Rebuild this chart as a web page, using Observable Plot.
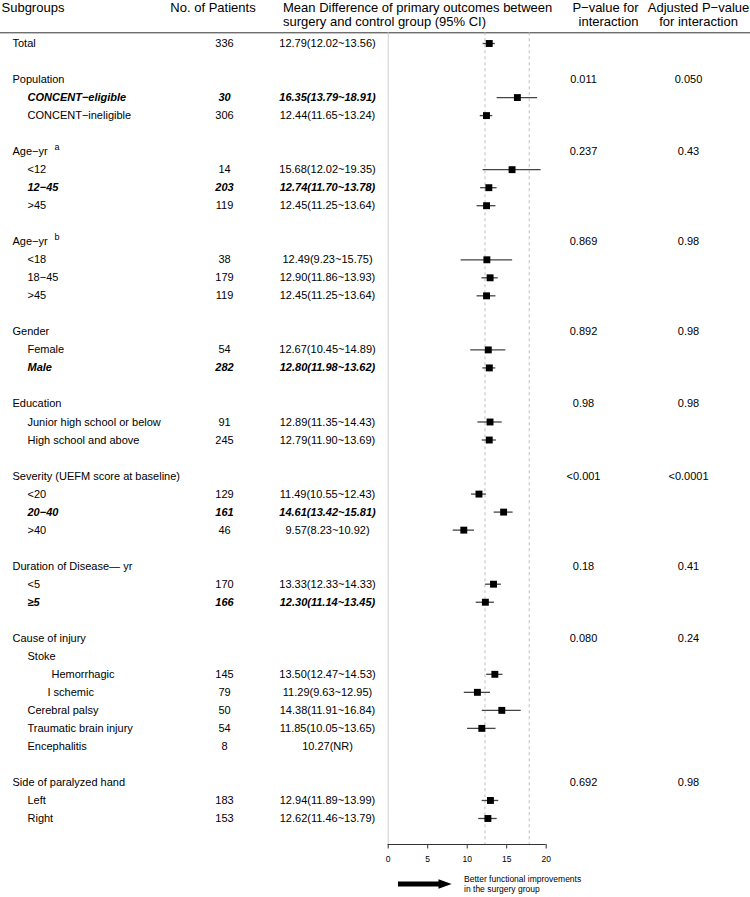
<!DOCTYPE html>
<html>
<head>
<meta charset="utf-8">
<script src="https://cdn.jsdelivr.net/npm/d3@7"></script>
<script src="https://cdn.jsdelivr.net/npm/@observablehq/plot@0.6"></script>
<style>
  html, body { margin: 0; padding: 0; background: #fff; }
  #chart svg { display: block; }
</style>
</head>
<body>
<div id="chart"></div>
<script>
// ---------------- DATA ----------------
const labels = [
  "Total", null,
  "Population", "CONCENT−eligible", "CONCENT−ineligible", null,
  "Age−yr", "<12", "12−45", ">45", null,
  "Age−yr", "<18", "18−45", ">45", null,
  "Gender", "Female", "Male", null,
  "Education", "Junior high school or below", "High school and above", null,
  "Severity (UEFM score at baseline)", "<20", "20−40", ">40", null,
  "Duration of Disease— yr", "<5", "≥5", null,
  "Cause of injury", "Stoke", "Hemorrhagic", "I schemic", "Cerebral palsy", "Traumatic brain injury", "Encephalitis", null,
  "Side of paralyzed hand", "Left", "Right"
];
const indentLevel = [
  0, null,
  0, 1, 1, null,
  0, 1, 1, 1, null,
  0, 1, 1, 1, null,
  0, 1, 1, null,
  0, 1, 1, null,
  0, 1, 1, 1, null,
  0, 1, 1, null,
  0, 1, 3, 2, 1, 1, 1, null,
  0, 1, 1
];
const superscripts = [
  null, null, null, null, null, null,
  "a", null, null, null, null,
  "b", null, null, null, null,
  null, null, null, null, null, null, null, null, null, null, null, null, null,
  null, null, null, null, null, null, null, null, null, null, null, null, null, null, null
];
const patients = [
  "336", null,
  null, "30", "306", null,
  null, "14", "203", "119", null,
  null, "38", "179", "119", null,
  null, "54", "282", null,
  null, "91", "245", null,
  null, "129", "161", "46", null,
  null, "170", "166", null,
  null, null, "145", "79", "50", "54", "8", null,
  null, "183", "153"
];
const estimates = [
  12.79, null,
  null, 16.35, 12.44, null,
  null, 15.68, 12.74, 12.45, null,
  null, 12.49, 12.90, 12.45, null,
  null, 12.67, 12.80, null,
  null, 12.89, 12.79, null,
  null, 11.49, 14.61, 9.57, null,
  null, 13.33, 12.30, null,
  null, null, 13.50, 11.29, 14.38, 11.85, null, null,
  null, 12.94, 12.62
];
const lowerCI = [
  12.02, null,
  null, 13.79, 11.65, null,
  null, 12.02, 11.70, 11.25, null,
  null, 9.23, 11.86, 11.25, null,
  null, 10.45, 11.98, null,
  null, 11.35, 11.90, null,
  null, 10.55, 13.42, 8.23, null,
  null, 12.33, 11.14, null,
  null, null, 12.47, 9.63, 11.91, 10.05, null, null,
  null, 11.89, 11.46
];
const upperCI = [
  13.56, null,
  null, 18.91, 13.24, null,
  null, 19.35, 13.78, 13.64, null,
  null, 15.75, 13.93, 13.64, null,
  null, 14.89, 13.62, null,
  null, 14.43, 13.69, null,
  null, 12.43, 15.81, 10.92, null,
  null, 14.33, 13.45, null,
  null, null, 14.53, 12.95, 16.84, 13.65, null, null,
  null, 13.99, 13.79
];
const ciText = [
  "12.79(12.02~13.56)", null,
  null, "16.35(13.79~18.91)", "12.44(11.65~13.24)", null,
  null, "15.68(12.02~19.35)", "12.74(11.70~13.78)", "12.45(11.25~13.64)", null,
  null, "12.49(9.23~15.75)", "12.90(11.86~13.93)", "12.45(11.25~13.64)", null,
  null, "12.67(10.45~14.89)", "12.80(11.98~13.62)", null,
  null, "12.89(11.35~14.43)", "12.79(11.90~13.69)", null,
  null, "11.49(10.55~12.43)", "14.61(13.42~15.81)", "9.57(8.23~10.92)", null,
  null, "13.33(12.33~14.33)", "12.30(11.14~13.45)", null,
  null, null, "13.50(12.47~14.53)", "11.29(9.63~12.95)", "14.38(11.91~16.84)", "11.85(10.05~13.65)", "10.27(NR)", null,
  null, "12.94(11.89~13.99)", "12.62(11.46~13.79)"
];
const pInteraction = [
  null, null,
  "0.011", null, null, null,
  "0.237", null, null, null, null,
  "0.869", null, null, null, null,
  "0.892", null, null, null,
  "0.98", null, null, null,
  "<0.001", null, null, null, null,
  "0.18", null, null, null,
  "0.080", null, null, null, null, null, null, null,
  "0.692", null, null
];
const pAdjusted = [
  null, null,
  "0.050", null, null, null,
  "0.43", null, null, null, null,
  "0.98", null, null, null, null,
  "0.98", null, null, null,
  "0.98", null, null, null,
  "<0.0001", null, null, null, null,
  "0.41", null, null, null,
  "0.24", null, null, null, null, null, null, null,
  "0.98", null, null
];
const highlighted = [
  false, false,
  false, true, false, false,
  false, false, true, false, false,
  false, false, false, false, false,
  false, false, true, false,
  false, false, false, false,
  false, false, true, false, false,
  false, false, true, false,
  false, false, false, false, false, false, false, false,
  false, false, false
];
const headers = {
  subgroups: "Subgroups",
  patients: "No. of Patients",
  effect: "Mean Difference of primary outcomes between\nsurgery and control group (95% CI)",
  pvalue: "P−value for\ninteraction",
  padj: "Adjusted P−value\nfor interaction"
};
const xTicks = [0, 5, 10, 15, 20];
const xDomain = [0, 20];
const referenceLine = [0];
const dashedLines = [12.25, 17.85];
const arrowSpan = [1.3, 6.6];
const arrowHeadAt = 7.2;
const arrowLabel = "Better functional improvements\nin the surgery group";

// ---------------- LAYOUT (styles / positions) ----------------
const W = 750, H = 897;
const FONT = "'Liberation Sans', Arial, Helvetica, sans-serif";
const BODY = 11, HEAD = 13;
const indentPx = [12, 27, 47, 51];
const colN = 224, colCI = 327, colP = 583, colPadj = 688;
// rows: row 0 at y=43px, last row at y=818px
const rowTopPx = 43, rowBottomPx = 818;
const nRows = labels.length;
const rowH = (rowBottomPx - rowTopPx) / (nRows - 1);
const toRow = px => (px - rowTopPx) / rowH;   // layout helper for annotations
const headerLine1 = toRow(7.5), headerMid = toRow(14.2);
const headerRule = toRow(32.3);
const axisRow = toRow(844);
const arrowRow = toRow(883.5);

const rows = labels.map((label, i) => ({
  row: i,
  label,
  level: indentLevel[i],
  sup: superscripts[i],
  n: patients[i],
  est: estimates[i],
  lo: lowerCI[i],
  hi: upperCI[i],
  ci: ciText[i],
  p: pInteraction[i],
  padj: pAdjusted[i],
  bold: highlighted[i]
}));

const textBase = {y: "row", frameAnchor: "left", fontSize: BODY, fill: "black"};
const marks = [];

// label columns by indent level
indentPx.forEach((px, lvl) => {
  [false, true].forEach(b => {
    const data = rows.filter(d => d.label != null && d.level === lvl && d.bold === b);
    if (!data.length) return;
    marks.push(Plot.text(data, {...textBase, text: "label", dx: px, textAnchor: "start",
      fontWeight: b ? "bold" : "normal", fontStyle: b ? "italic" : "normal"}));
  });
});
// superscripts
marks.push(Plot.text(rows.filter(d => d.sup), {...textBase, text: "sup", dx: 54, dy: -5,
  fontSize: 9, textAnchor: "start"}));
// value columns
[false, true].forEach(b => {
  const style = {fontWeight: b ? "bold" : "normal", fontStyle: b ? "italic" : "normal"};
  marks.push(Plot.text(rows.filter(d => d.n && d.bold === b), {...textBase, ...style, text: "n", dx: colN, textAnchor: "middle"}));
  marks.push(Plot.text(rows.filter(d => d.ci && d.bold === b), {...textBase, ...style, text: "ci", dx: colCI, textAnchor: "middle"}));
});
marks.push(Plot.text(rows.filter(d => d.p), {...textBase, text: "p", dx: colP, textAnchor: "middle"}));
marks.push(Plot.text(rows.filter(d => d.padj), {...textBase, text: "padj", dx: colPadj, textAnchor: "middle"}));

// headers
const headBase = {frameAnchor: "left", fontSize: HEAD, fill: "black", lineHeight: 1.03};
marks.push(Plot.text([headers.subgroups], {...headBase, y: () => headerLine1, text: d => d, dx: 1, textAnchor: "start"}));
marks.push(Plot.text([headers.patients], {...headBase, y: () => headerLine1, text: d => d, dx: 212.5, textAnchor: "middle"}));
marks.push(Plot.text([headers.effect], {...headBase, y: () => headerMid, text: d => d, dx: 282.5, textAnchor: "start"}));
marks.push(Plot.text([headers.pvalue], {...headBase, y: () => headerMid, text: d => d, dx: 638, textAnchor: "end"}));
marks.push(Plot.text([headers.padj], {...headBase, y: () => headerMid, text: d => d, dx: 698, textAnchor: "middle"}));

// header rule
marks.push(Plot.ruleY([headerRule], {stroke: "#333", strokeWidth: 1}));

// reference and dashed lines
marks.push(Plot.ruleX(referenceLine, {y1: headerRule, y2: axisRow, stroke: "#d0d0d0", strokeWidth: 1}));
marks.push(Plot.ruleX(dashedLines, {y1: headerRule, y2: axisRow, stroke: "#bdbdbd", strokeWidth: 1, strokeDasharray: "3,3"}));

// CIs and points
const withCI = rows.filter(d => d.lo != null);
marks.push(Plot.ruleY(withCI, {y: "row", x1: "lo", x2: "hi", stroke: "#444", strokeWidth: 1.3}));
marks.push(Plot.dot(rows.filter(d => d.est != null), {x: "est", y: "row", symbol: "square", r: 3.9, fill: "black", stroke: "none"}));

// axis
marks.push(Plot.ruleY([axisRow], {x1: xDomain[0], x2: xDomain[1], stroke: "#333", strokeWidth: 1}));
marks.push(Plot.axisX({ticks: xTicks, tickSize: 4.5, tickPadding: 7, fontSize: 8.5, anchor: "bottom", stroke: "#333", tickFormat: d => String(d)}));

// arrow annotation
const headSymbol = {
  draw(context, size) {
    const s = Math.sqrt(size);
    context.moveTo(0.7 * s, 0);
    context.lineTo(-0.7 * s, -0.5 * s);
    context.lineTo(-0.7 * s, 0.5 * s);
    context.closePath();
  }
};
marks.push(Plot.ruleY([arrowRow], {x1: arrowSpan[0], x2: arrowSpan[1], stroke: "black", strokeWidth: 5}));
marks.push(Plot.dot([arrowHeadAt], {x: d => d, y: () => arrowRow, symbol: headSymbol, r: 5.3, fill: "black", stroke: "none"}));
marks.push(Plot.text([arrowLabel], {x: () => 9.6, y: () => arrowRow, text: d => d, textAnchor: "start", fontSize: 8.5, lineHeight: 1.15, fill: "black"}));

const chart = Plot.plot({
  width: W,
  height: H,
  marginLeft: 0,
  marginRight: 0,
  marginTop: 0,
  marginBottom: H - 844,
  style: {fontFamily: FONT, fontSize: BODY + "px", background: "white", overflow: "visible"},
  x: {domain: xDomain, range: [387.7, 545.7], axis: null},
  y: {domain: [0, nRows - 1], range: [rowTopPx, rowBottomPx], axis: null},
  marks
});
document.getElementById("chart").appendChild(chart);
</script>
</body>
</html>
